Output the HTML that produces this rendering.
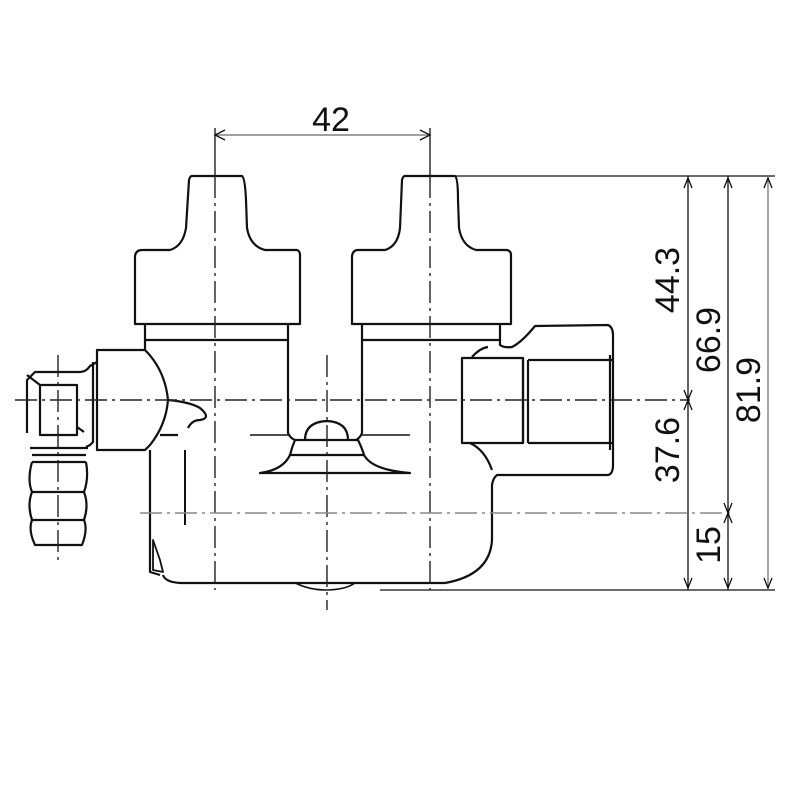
<!DOCTYPE html>
<html><head><style>
html,body{margin:0;padding:0;background:#fff;width:800px;height:800px;overflow:hidden}
text{font-family:"Liberation Sans",sans-serif;fill:#111}
</style></head><body>
<svg width="800" height="800" viewBox="0 0 800 800" xmlns="http://www.w3.org/2000/svg">
<g fill="none" stroke="#111" stroke-width="2.2" stroke-linejoin="round">
<!-- left knob -->
<path d="M192,176 L242,176 Q245,178 246,200 L247,228 Q250,246 265,250 L297,250 Q300,251 300,255 L300,324 L135,324 L135,256 Q136,250 142,250 L170,250 Q183,246 186,228 L189,180 Q190,176 192,176 Z"/>
<path d="M145,324 L145,340 L288,340 L288,324"/>
<!-- right knob -->
<path d="M405,176 L455,176 Q458,178 458,200 L459,228 Q462,246 476,250 L507,250 Q511,251 511,255 L511,324 L352,324 L352,256 Q353,250 358,250 L385,250 Q398,246 400,228 L402,180 Q403,176 405,176 Z"/>
<path d="M362,324 L362,340 L500,340 L500,324"/>
<!-- body columns -->
<path d="M288,340 L288,433 Q290,438 295,440"/>
<path d="M362,340 L362,433 Q360,438 356,440"/>
<path d="M145,340 L145,350"/>
<path d="M500,340 L500,345 Q504,348 512,347 Q522,342 535,326 L608,325 Q613,327 613,335 L613,465 Q613,474 608,475 L497,475 Q493,478 492,485 L492,540 Q490,575 445,583 L180,583 Q165,582 163,575"/>
<!-- left body -->
<path d="M150,450 L150,572 L160,575"/>
<path d="M153,540 L153,570 L163,572 L160,560 Z" stroke-width="1.8"/>
<path d="M185,450 L185,525" stroke-width="2"/>
<!-- left fitting body -->
<path d="M97,350 L145,350 Q165,370 168,400 Q166,425 150,445 L145,450 L97,450 Z"/>
<path d="M168,400 Q190,402 200,408 Q212,418 200,420 Q192,420 188,428"/>
<path d="M160,435 L178,435"/>
<!-- left nut -->
<path d="M97,362 L90,366 Q86,372 80,372 L35,372 L27,380 L27,433"/>
<path d="M93,362 L93,442 L90,445 L86,447"/>
<rect x="40" y="385" width="37" height="50"/>
<path d="M27,375 L40,385 M77,427 L84,432"/>
<!-- hose barb -->
<path d="M30,448 L88,448 M32,455 L86,455 M32,462 L86,462"/>
<path d="M32,462 Q27,480 32,492 Q27,505 32,520 Q28,530 35,545 L82,545 Q88,530 84,520 Q89,505 84,492 Q89,478 86,462"/>
<path d="M32,492 L84,492 M32,520 L84,520"/>
<!-- center bump -->
<path d="M305,440 Q305,422 327,421 Q348,422 348,440"/>
<path d="M295,440 L358,440 Q362,448 364,455 L290,455 Q292,447 295,440"/>
<path d="M290,455 Q283,470 260,473 L410,473 Q372,470 364,455"/>
<path d="M250,435 L288,435 M362,435 L410,435" stroke-width="1.6"/>
<path d="M295,583 Q310,590 325,590 Q345,590 355,583" stroke-width="1.6"/>
<!-- right fitting -->
<rect x="462" y="358" width="61" height="85"/>
<path d="M523,358 L523,443 M528,360 L528,443 M528,360 L613,360 M528,443 L613,443 M610,355 L610,450"/>
<path d="M472,357 Q480,348 488,347 M470,443 Q485,450 492,470"/>
</g>
<!-- centerlines -->
<g fill="none" stroke="#222" stroke-width="1.4" stroke-dasharray="22,5,3,5">
<line x1="215" y1="176" x2="215" y2="590"/>
<line x1="430" y1="176" x2="430" y2="590"/>
<line x1="327" y1="355" x2="327" y2="610"/>
<line x1="58" y1="355" x2="58" y2="565"/>
<line x1="15" y1="400" x2="690" y2="400"/>
<line x1="140" y1="513" x2="730" y2="513" stroke="#888"/>
</g>
<!-- dimensions -->
<g fill="none" stroke="#111" stroke-width="1.3">
<line x1="215" y1="128" x2="215" y2="176"/>
<line x1="430" y1="128" x2="430" y2="176"/>
<line x1="215" y1="135" x2="430" y2="135" stroke="#666"/>
<path d="M225,130 L215,135 L225,140 M420,130 L430,135 L420,140"/>
<line x1="455" y1="176" x2="775" y2="176"/>
<line x1="380" y1="590" x2="775" y2="590"/>
<line x1="688" y1="176" x2="688" y2="590"/>
<line x1="728" y1="176" x2="728" y2="590"/>
<line x1="768" y1="176" x2="768" y2="590" stroke="#777"/>
<path d="M684,188 L688,178 L692,188 M684,578 L688,588 L692,578 M684,390 L688,400 L692,390 M684,410 L688,400 L692,410"/>
<path d="M724,188 L728,178 L732,188 M724,578 L728,588 L732,578 M724,503 L728,513 L732,503 M724,523 L728,513 L732,523"/>
<path d="M764,188 L768,178 L772,188 M764,578 L768,588 L772,578"/>
</g>
<text x="331" y="131" font-size="34" text-anchor="middle">42</text>
<g font-size="34" text-anchor="middle">
<text transform="translate(679,280) rotate(-90)">44.3</text>
<text transform="translate(720,340) rotate(-90)">66.9</text>
<text transform="translate(760,390) rotate(-90)">81.9</text>
<text transform="translate(679,450) rotate(-90)">37.6</text>
<text transform="translate(720,545) rotate(-90)">15</text>
</g>
</svg>
</body></html>
